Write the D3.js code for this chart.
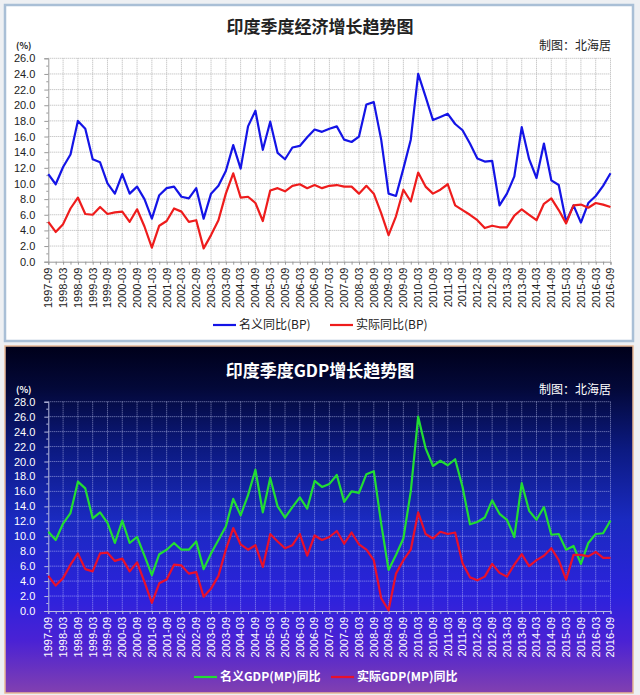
<!DOCTYPE html>
<html>
<head>
<meta charset="utf-8">
<script src="https://cdn.jsdelivr.net/npm/d3@7"></script>
<style>
  html, body { margin: 0; padding: 0; background: #eef0f3; }
  svg { display: block; }
</style>
</head>
<body>
<svg id="chart" width="640" height="695"></svg>
<script>
// ---------- DATA ----------
const quarters = [
  "1997-09","1997-12",
  "1998-03","1998-06","1998-09","1998-12",
  "1999-03","1999-06","1999-09","1999-12",
  "2000-03","2000-06","2000-09","2000-12",
  "2001-03","2001-06","2001-09","2001-12",
  "2002-03","2002-06","2002-09","2002-12",
  "2003-03","2003-06","2003-09","2003-12",
  "2004-03","2004-06","2004-09","2004-12",
  "2005-03","2005-06","2005-09","2005-12",
  "2006-03","2006-06","2006-09","2006-12",
  "2007-03","2007-06","2007-09","2007-12",
  "2008-03","2008-06","2008-09","2008-12",
  "2009-03","2009-06","2009-09","2009-12",
  "2010-03","2010-06","2010-09","2010-12",
  "2011-03","2011-06","2011-09","2011-12",
  "2012-03","2012-06","2012-09","2012-12",
  "2013-03","2013-06","2013-09","2013-12",
  "2014-03","2014-06","2014-09","2014-12",
  "2015-03","2015-06","2015-09","2015-12",
  "2016-03","2016-06","2016-09"
];
const xTickLabels = [
  "1997-09","1998-03","1998-09","1999-03","1999-09","2000-03","2000-09","2001-03",
  "2001-09","2002-03","2002-09","2003-03","2003-09","2004-03","2004-09","2005-03",
  "2005-09","2006-03","2006-09","2007-03","2007-09","2008-03","2008-09","2009-03",
  "2009-09","2010-03","2010-09","2011-03","2011-09","2012-03","2012-09","2013-03",
  "2013-09","2014-03","2014-09","2015-03","2015-09","2016-03","2016-09"
];

// Panel 1: 名义同比(BP) / 实际同比(BP)
const nominalBP = [11.2, 9.9, 12.1, 13.7, 18.0, 17.0, 13.1, 12.7, 10.0, 8.7,
  11.2, 8.7, 9.6, 8.0, 5.5, 8.5, 9.4, 9.6, 8.3, 8.1,
  9.4, 5.5, 8.7, 9.7, 11.6, 14.9, 11.9, 17.3, 19.3, 14.3,
  17.9, 13.9, 13.1, 14.6, 14.8, 15.9, 16.9, 16.6, 17.0, 17.3,
  15.6, 15.3, 16.0, 20.1, 20.4, 15.6, 8.7, 8.4, 11.9, 15.6,
  24.0, 21.1, 18.1, 18.5, 18.9, 17.6, 16.8, 15.1, 13.2, 12.8,
  12.9, 7.2, 8.7, 10.9, 17.2, 13.1, 10.7, 15.1, 10.4, 9.8,
  5.1, 7.2, 5.0, 7.5, 8.4, 9.7, 11.3];
const realBP = [5.1, 3.8, 4.8, 6.8, 8.2, 6.1, 6.0, 7.0, 6.1, 6.3,
  6.4, 5.1, 6.7, 4.5, 1.8, 4.6, 5.2, 6.8, 6.4, 5.1,
  5.3, 1.7, 3.4, 5.3, 8.7, 11.3, 8.2, 8.3, 7.5, 5.2,
  9.1, 9.4, 9.0, 9.7, 9.9, 9.4, 9.8, 9.4, 9.7, 9.8,
  9.6, 9.6, 8.7, 9.7, 8.7, 6.2, 3.4, 5.8, 9.2, 7.7,
  11.4, 9.6, 8.7, 9.2, 9.9, 7.2, 6.6, 6.0, 5.3, 4.3,
  4.6, 4.4, 4.4, 5.9, 6.7, 6.0, 5.3, 7.4, 8.1, 6.6,
  4.9, 7.2, 7.3, 6.9, 7.5, 7.3, 7.0];

// Panel 2: 名义GDP(MP)同比 / 实际GDP(MP)同比
const nominalMP = [10.6, 9.5, 11.7, 13.1, 17.3, 16.4, 12.4, 13.2, 11.8, 9.1,
  12.1, 9.1, 9.9, 7.4, 4.8, 7.6, 8.2, 9.1, 8.2, 8.2,
  9.3, 5.6, 7.7, 9.5, 11.3, 15.0, 12.8, 15.5, 18.9, 13.2,
  17.8, 14.0, 12.5, 13.9, 15.2, 13.7, 17.4, 16.6, 17.0, 18.2,
  14.6, 16.0, 15.8, 18.3, 18.7, 11.7, 5.5, 7.5, 9.7, 16.0,
  26.0, 21.8, 19.4, 20.1, 19.5, 20.3, 16.6, 11.6, 11.9, 12.5,
  14.8, 13.0, 12.2, 9.9, 17.1, 13.4, 12.2, 13.9, 10.2, 10.3,
  8.2, 8.7, 6.3, 9.1, 10.3, 10.4, 12.1];
const realMP = [4.7, 3.4, 4.4, 6.2, 7.7, 5.6, 5.3, 7.7, 7.8, 6.7,
  7.0, 5.3, 6.5, 3.9, 1.1, 3.7, 4.2, 6.2, 6.1, 5.0,
  5.2, 1.9, 3.0, 4.7, 8.2, 11.1, 8.9, 8.2, 8.8, 5.9,
  10.3, 9.3, 8.4, 8.8, 10.3, 7.4, 10.1, 9.5, 9.9, 10.7,
  9.0, 10.5, 8.9, 8.2, 6.8, 1.7, 0.1, 5.0, 6.8, 8.2,
  13.2, 10.3, 9.7, 10.6, 10.3, 10.5, 6.4, 4.5, 4.1, 4.6,
  6.3, 5.1, 4.6, 6.2, 7.6, 6.0, 6.8, 7.4, 8.4, 6.8,
  4.2, 7.5, 7.5, 7.3, 7.9, 7.1, 7.1];

const yTicks1 = [0,2,4,6,8,10,12,14,16,18,20,22,24,26];
const yTicks2 = [0,2,4,6,8,10,12,14,16,18,20,22,24,26,28];

// ---------- DRAW ----------
const svg = d3.select("#chart");
const defs = svg.append("defs");
const grad = defs.append("linearGradient").attr("id","bg2")
  .attr("x1",0).attr("y1",0).attr("x2",0).attr("y2",1);
[[0,"#00001a"],[0.12,"#030838"],[0.3,"#0c1a82"],[0.5,"#1a2ac0"],[0.72,"#2c22dc"],[0.85,"#4a22d4"],[1,"#8240b0"]]
  .forEach(([o,c]) => grad.append("stop").attr("offset",o).attr("stop-color",c));

const NUMF = "'Liberation Sans', Arial, sans-serif";
const CJK = "'Noto Sans CJK SC', sans-serif";

function drawPanel(cfg) {
  const g = svg.append("g");
  // panel background
  g.append("rect").attr("x",cfg.px).attr("y",cfg.py).attr("width",cfg.pw).attr("height",cfg.ph)
    .attr("fill",cfg.bg).attr("stroke",cfg.border).attr("stroke-width",cfg.borderW);

  const x = d3.scalePoint().domain(quarters).range([48.3, 610.5]);
  const y = d3.scaleLinear().domain([0, cfg.yMax]).range([cfg.y0, cfg.yTop]);

  // title
  g.append("text").attr("x",320).attr("y",cfg.titleY).attr("text-anchor","middle")
    .attr("font-family",CJK).attr("font-weight","bold").attr("font-size",17)
    .attr("fill",cfg.textColor).text(cfg.title);
  g.append("text").attr("x",611).attr("y",cfg.creditY).attr("text-anchor","end")
    .attr("font-family",CJK).attr("font-size",12).attr("fill",cfg.textColor).text("制图：北海居");
  g.append("text").attr("x",16).attr("y",cfg.unitY)
    .attr("font-family",CJK).attr("font-weight","bold").attr("font-size",9)
    .attr("fill",cfg.textColor).text("(%)");

  // grid
  const grid = g.append("g");
  grid.selectAll("line.h").data(cfg.yTicks.filter(d => d > 0)).join("line")
    .attr("x1",x.range()[0]).attr("x2",x.range()[1])
    .attr("y1",d => y(d)).attr("y2",d => y(d))
    .attr("stroke",cfg.gridColor).attr("stroke-dasharray","1,1").attr("stroke-width",1);
  grid.selectAll("line.v").data(xTickLabels.slice(1)).join("line")
    .attr("x1",d => x(d)).attr("x2",d => x(d))
    .attr("y1",y(cfg.yMax)).attr("y2",y(0))
    .attr("stroke",cfg.gridColor).attr("stroke-dasharray","1,1").attr("stroke-width",1);

  // y axis
  const yAxis = d3.axisLeft(y).tickValues(cfg.yTicks).tickFormat(d3.format(".1f")).tickSize(4).tickPadding(9);
  const ya = g.append("g").attr("transform",`translate(${x.range()[0]},0)`).call(yAxis);
  ya.select(".domain").attr("stroke",cfg.axisColor);
  ya.selectAll(".tick line").attr("stroke",cfg.axisColor);
  ya.selectAll("text").attr("font-family",NUMF).attr("font-size",11).attr("fill",cfg.textColor);
  // minor y ticks
  const minor = d3.range(1, cfg.yMax, 2);
  g.selectAll("line.minor").data(minor).join("line")
    .attr("x1",x.range()[0]-2).attr("x2",x.range()[0])
    .attr("y1",d => y(d)).attr("y2",d => y(d)).attr("stroke",cfg.axisColor);

  // x axis
  const xAxis = d3.axisBottom(x).tickValues(quarters).tickSize(3).tickFormat("");
  const xa = g.append("g").attr("transform",`translate(0,${y(0)})`).call(xAxis);
  xa.select(".domain").attr("stroke",cfg.axisColor);
  xa.selectAll(".tick line").attr("stroke",cfg.axisColor);
  g.selectAll("text.xl").data(xTickLabels).join("text")
    .attr("transform",d => `translate(${x(d)},${y(0)+6}) rotate(-90)`)
    .attr("text-anchor","end").attr("dy","0.35em")
    .attr("font-family",NUMF).attr("font-size",11).attr("fill",cfg.textColor)
    .text(d => d);

  // lines
  const line = d3.line().x((d,i) => x(quarters[i])).y(d => y(d));
  cfg.series.forEach(s => {
    g.append("path").datum(s.values).attr("d",line)
      .attr("fill","none").attr("stroke",s.color).attr("stroke-width",2.2)
      .attr("stroke-linejoin","round");
  });

  // legend
  cfg.series.forEach(s => {
    g.append("line").attr("x1",s.lx).attr("x2",s.lx+23)
      .attr("y1",cfg.legendY).attr("y2",cfg.legendY)
      .attr("stroke",s.color).attr("stroke-width",2.2);
    g.append("text").attr("x",s.lx+26).attr("y",cfg.legendY).attr("dy","0.36em")
      .attr("font-family",CJK).attr("font-size",12).attr("font-weight",cfg.legendWeight)
      .attr("fill",cfg.textColor).text(s.name);
  });
}

drawPanel({
  px:5, py:5, pw:628, ph:336, bg:"#ffffff", border:"#a9bfd6", borderW:2.5,
  yMax:26, y0:261.7, yTop:58.3, yTicks:yTicks1,
  title:"印度季度经济增长趋势图", titleY:33, creditY:50, unitY:49,
  textColor:"#222222", gridColor:"#b4b4b4", axisColor:"#999999",
  legendY:325, legendWeight:"normal",
  series:[
    {name:"名义同比(BP)", values:nominalBP, color:"#1414e6", lx:213},
    {name:"实际同比(BP)", values:realBP, color:"#ee1c1c", lx:330}
  ]
});

drawPanel({
  px:5, py:346, pw:628, ph:347, bg:"url(#bg2)", border:"#e8b896", borderW:1.5,
  yMax:28, y0:611, yTop:401.7, yTicks:yTicks2,
  title:"印度季度GDP增长趋势图", titleY:377, creditY:394, unitY:393,
  textColor:"#ffffff", gridColor:"rgba(210,215,255,0.6)", axisColor:"#b8bce0",
  legendY:677, legendWeight:"bold",
  series:[
    {name:"名义GDP(MP)同比", values:nominalMP, color:"#22dd33", lx:194},
    {name:"实际GDP(MP)同比", values:realMP, color:"#e8102c", lx:331}
  ]
});
</script>
</body>
</html>
